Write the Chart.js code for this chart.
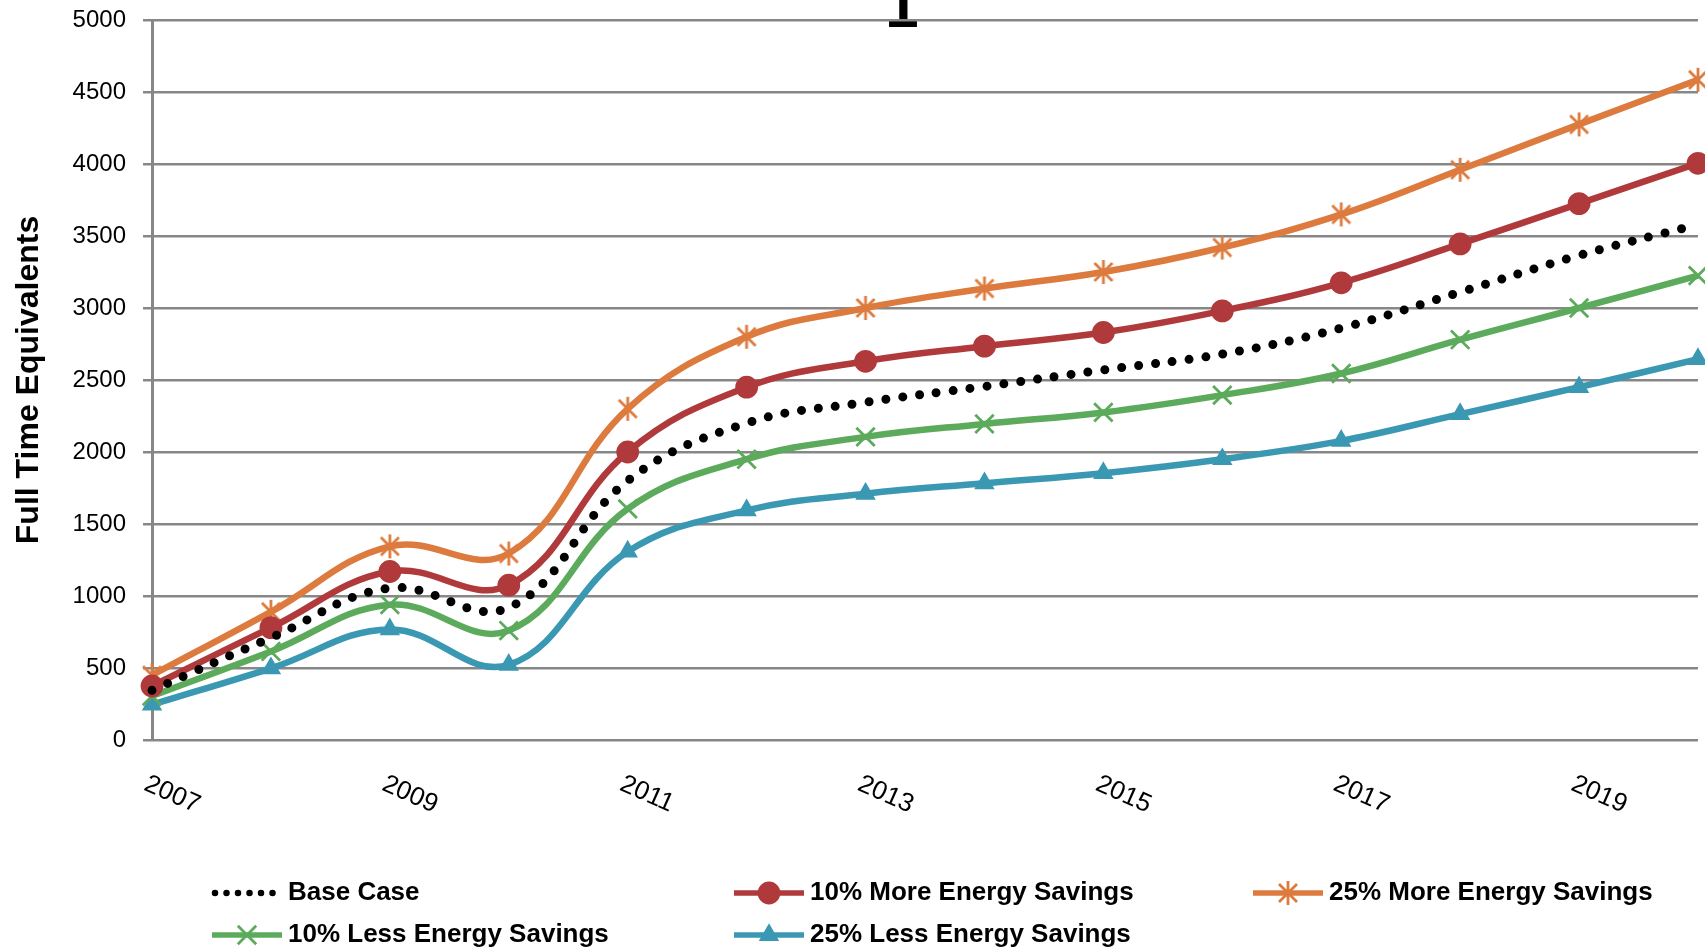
<!DOCTYPE html>
<html>
<head>
<meta charset="utf-8">
<script src="https://cdn.jsdelivr.net/npm/chart.js@4.4.0/dist/chart.umd.min.js"></script>
<style>
  html, body { margin: 0; padding: 0; background: #fff; overflow: hidden; }
  #wrap { width: 1705px; height: 951px; }
</style>
</head>
<body>
<div id="wrap"><canvas id="chart" width="1705" height="951"></canvas></div>
<script>
// chart data
const years = ['2007', '2008', '2009', '2010', '2011', '2012', '2013',
               '2014', '2015', '2016', '2017', '2018', '2019', '2020'];
const xTickLabels = ['2007', '2009', '2011', '2013', '2015', '2017', '2019'];
const yMin = 0, yMax = 5000, yStep = 500;

const baseCase = [345, 710, 1055, 920, 1800, 2200, 2345, 2455, 2570, 2680, 2860, 3110, 3365, 3580];
const more10 = [375, 780, 1170, 1075, 2000, 2450, 2630, 2735, 2830, 2980, 3175, 3445, 3725, 4005];
const more25 = [450, 890, 1345, 1295, 2300, 2800, 3000, 3135, 3250, 3420, 3650, 3960, 4275, 4585];
const less10 = [305, 615, 940, 760, 1605, 1950, 2105, 2195, 2275, 2395, 2545, 2780, 3000, 3225];
const less25 = [245, 498, 768, 522, 1308, 1595, 1710, 1783, 1853, 1950, 2077, 2263, 2450, 2645];

const seriesNames = ['Base Case', '10% More Energy Savings', '25% More Energy Savings',
                     '10% Less Energy Savings', '25% Less Energy Savings'];
const yTitle = 'Full Time Equivalents';

const FONT = "'Liberation Sans', Arial, sans-serif";
const GRID = '#878787';

// excel-ish asterisk marker
function asterisk(color) {
    const c = document.createElement('canvas');
    c.width = 28; c.height = 28;
    const g = c.getContext('2d');
    g.strokeStyle = color;
    g.lineWidth = 2.8;
    g.beginPath();
    g.moveTo(14, 2); g.lineTo(14, 26);
    g.moveTo(5, 5); g.lineTo(23, 23);
    g.moveTo(23, 5); g.lineTo(5, 23);
    g.stroke();
    return c;
}

function lineSet(label, data, color, style, radius) {
    return {
        label, data,
        borderColor: color,
        backgroundColor: color,
        borderWidth: 6.5,
        tension: 0.4,
        pointStyle: style,
        pointRadius: radius,
        pointBackgroundColor: color,
        pointBorderColor: color,
        pointBorderWidth: 2.8,
        clip: 12
    };
}

const datasets = [
    {
        label: seriesNames[0], data: baseCase,
        borderColor: '#000', backgroundColor: '#000',
        borderWidth: 9, borderDash: [0, 17], borderCapStyle: 'round',
        tension: 0.4, pointRadius: 0, clip: 12
    },
    lineSet(seriesNames[1], more10, '#B03A3B', 'circle', 10),
    lineSet(seriesNames[2], more25, '#DD7B3F', asterisk('#DD7B3F'), 12),
    lineSet(seriesNames[3], less10, '#5CAA5B', 'crossRot', 13),
    lineSet(seriesNames[4], less25, '#3A98B3', 'triangle', 9)
];

// stray bit of a clipped title at the very top
const titleFragment = {
    id: 'titleFragment',
    beforeDraw(chart) {
        const ctx = chart.ctx;
        ctx.save();
        ctx.fillStyle = '#000';
        ctx.font = 'bold 60px ' + FONT;
        ctx.textAlign = 'center';
        ctx.textBaseline = 'alphabetic';
        ctx.fillText('1', 902, 27);
        ctx.restore();
    }
};

// x labels slanted downwards
const slantedXLabels = {
    id: 'slantedXLabels',
    afterDraw(chart) {
        const ctx = chart.ctx;
        const xs = chart.scales.x;
        ctx.save();
        ctx.fillStyle = '#000';
        ctx.font = '26px ' + FONT;
        ctx.textAlign = 'left';
        ctx.textBaseline = 'top';
        xTickLabels.forEach(lbl => {
            const x = xs.getPixelForValue(years.indexOf(lbl));
            ctx.save();
            ctx.translate(x - 1, 771);
            ctx.rotate(24 * Math.PI / 180);
            ctx.fillText(lbl, 0, 0);
            ctx.restore();
        });
        ctx.restore();
    }
};

// legend in a fixed grid, like the original
const legendSlots = [[212, 893], [734, 893], [1253, 893], [212, 935], [734, 935]];
const gridLegend = {
    id: 'gridLegend',
    afterDraw(chart) {
        const ctx = chart.ctx;
        chart.data.datasets.forEach((ds, i) => {
            const [lx, ly] = legendSlots[i];
            ctx.save();
            ctx.strokeStyle = ds.borderColor;
            ctx.fillStyle = ds.borderColor;
            if (ds.borderDash) {
                ctx.lineWidth = 6.5;
                ctx.lineCap = 'round';
                ctx.setLineDash([0, 11.5]);
                ctx.beginPath();
                ctx.moveTo(lx + 3, ly); ctx.lineTo(lx + 68, ly);
                ctx.stroke();
                ctx.setLineDash([]);
            } else {
                ctx.lineWidth = 5.5;
                ctx.beginPath();
                ctx.moveTo(lx, ly); ctx.lineTo(lx + 70, ly);
                ctx.stroke();
                ctx.lineWidth = ds.pointBorderWidth;
                Chart.helpers.drawPoint(ctx, {
                    pointStyle: ds.pointStyle, radius: ds.pointRadius,
                    rotation: 0, borderWidth: ds.pointBorderWidth
                }, lx + 35, ly);
            }
            ctx.fillStyle = '#000';
            ctx.font = 'bold 26px ' + FONT;
            ctx.textAlign = 'left';
            ctx.textBaseline = 'middle';
            ctx.fillText(ds.label, lx + 76, ly);
            ctx.restore();
        });
    }
};

new Chart(document.getElementById('chart'), {
    type: 'line',
    data: { labels: years, datasets },
    options: {
        responsive: false,
        animation: false,
        layout: { autoPadding: false, padding: { top: 20, right: 7, bottom: 0, left: 0 } },
        plugins: {
            legend: { display: false },
            tooltip: { enabled: false }
        },
        scales: {
            x: {
                offset: false,
                ticks: { display: false },
                grid: { display: false },
                border: { display: false },
                afterFit(s) { s.height = 211; }
            },
            y: {
                min: yMin, max: yMax,
                ticks: {
                    stepSize: yStep, color: '#000', padding: 17,
                    font: { family: FONT, size: 24 },
                    callback: v => String(v)
                },
                grid: { color: GRID, lineWidth: 2.5, tickLength: 9 },
                border: { display: true, color: GRID, width: 3 },
                title: {
                    display: true, text: yTitle, color: '#000',
                    font: { family: FONT, size: 32, weight: 'bold' },
                    padding: { top: 10, bottom: 0 }
                },
                afterFit(s) {
                    s.width = 152;
                    s.paddingTop = 0;
                    s.paddingBottom = 0;
                }
            }
        }
    },
    plugins: [titleFragment, slantedXLabels, gridLegend]
});
</script>
</body>
</html>
